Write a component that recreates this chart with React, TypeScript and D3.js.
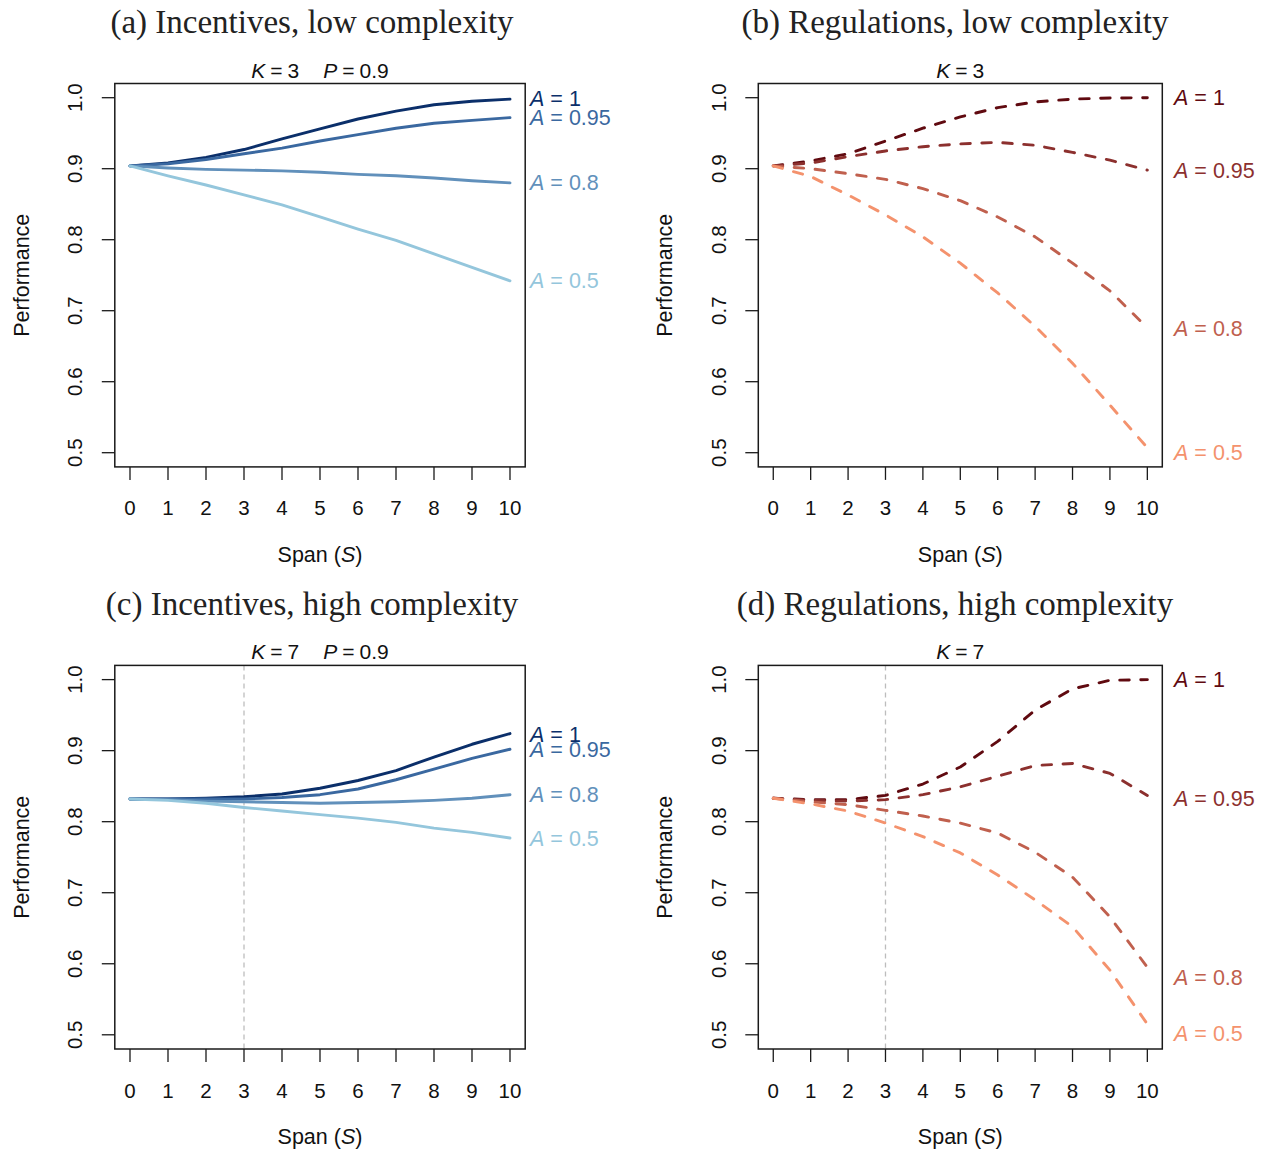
import React from "react";
import * as d3 from "d3";

const spans = [0, 1, 2, 3, 4, 5, 6, 7, 8, 9, 10];
const yTicks = [0.5, 0.6, 0.7, 0.8, 0.9, 1.0];
const aLevels = ["1", "0.95", "0.8", "0.5"];

const incLowA1 = [0.904, 0.908, 0.916, 0.927, 0.942, 0.956, 0.970, 0.981, 0.990, 0.995, 0.998];
const incLowA095 = [0.904, 0.907, 0.913, 0.921, 0.929, 0.939, 0.948, 0.957, 0.964, 0.968, 0.972];
const incLowA08 = [0.904, 0.901, 0.899, 0.898, 0.897, 0.895, 0.892, 0.890, 0.887, 0.883, 0.880];
const incLowA05 = [0.904, 0.890, 0.877, 0.863, 0.849, 0.832, 0.815, 0.799, 0.780, 0.761, 0.742];

const regLowA1 = [0.904, 0.911, 0.921, 0.939, 0.957, 0.973, 0.986, 0.994, 0.998, 0.9995, 1.0];
const regLowA095 = [0.904, 0.908, 0.917, 0.925, 0.931, 0.935, 0.937, 0.933, 0.923, 0.912, 0.898];
const regLowA08 = [0.904, 0.900, 0.893, 0.885, 0.872, 0.855, 0.832, 0.804, 0.767, 0.728, 0.676];
const regLowA05 = [0.904, 0.889, 0.863, 0.835, 0.804, 0.767, 0.725, 0.678, 0.626, 0.567, 0.507];

const incHighA1 = [0.832, 0.832, 0.833, 0.835, 0.839, 0.847, 0.858, 0.872, 0.891, 0.909, 0.924];
const incHighA095 = [0.832, 0.832, 0.832, 0.832, 0.834, 0.838, 0.846, 0.859, 0.874, 0.889, 0.902];
const incHighA08 = [0.832, 0.831, 0.829, 0.828, 0.827, 0.826, 0.827, 0.828, 0.830, 0.833, 0.838];
const incHighA05 = [0.832, 0.830, 0.826, 0.820, 0.815, 0.810, 0.805, 0.799, 0.791, 0.785, 0.777];

const regHighA1 = [0.833, 0.831, 0.831, 0.837, 0.853, 0.877, 0.913, 0.957, 0.987, 0.999, 1.0];
const regHighA095 = [0.833, 0.830, 0.829, 0.831, 0.838, 0.849, 0.864, 0.879, 0.882, 0.868, 0.837];
const regHighA08 = [0.833, 0.828, 0.824, 0.816, 0.808, 0.798, 0.784, 0.757, 0.722, 0.666, 0.595];
const regHighA05 = [0.833, 0.825, 0.815, 0.798, 0.779, 0.756, 0.725, 0.690, 0.652, 0.591, 0.515];

const incLowLabelY = [0.998, 0.972, 0.880, 0.742];
const regLowLabelY = [1.0, 0.897, 0.674, 0.4996];
const incHighLabelY = [0.922, 0.901, 0.838, 0.776];
const regHighLabelY = [0.999, 0.832, 0.58, 0.501];

const blues = ["#0b2f6a", "#3a68a0", "#6190bb", "#94c6dc"];
const reds = ["#600a10", "#8c302e", "#c0604e", "#f4926d"];

const SANS = "'Liberation Sans', Arial, Helvetica, sans-serif";
const SERIF = "'Liberation Serif', 'Times New Roman', serif";

type PanelProps = {
  xr: [number, number];
  yr: [number, number];
  title: string;
  titleX: number;
  titleY: number;
  K: string;
  showP: boolean;
  series: number[][];
  labelY: number[];
  labelX: number;
  colors: string[];
  dashed: boolean;
  vline: boolean;
};

function Panel(p: PanelProps) {
  const x = d3.scaleLinear().domain([-0.4, 10.4]).range(p.xr);
  const y = d3.scaleLinear().domain([0.48, 1.02]).range(p.yr);
  const left = p.xr[0], right = p.xr[1], top = p.yr[1], bottom = p.yr[0];
  const cx = (x(0) + x(10)) / 2;
  const midY = (y(0.5) + y(1.0)) / 2;
  const line = d3
    .line<number>()
    .x((_, i) => x(spans[i]))
    .y((d) => y(d));
  const ink = "#1a1a1a";
  return (
    <g>
      <text x={p.titleX} y={p.titleY} textAnchor="middle" dominantBaseline="central"
        fontFamily={SERIF} fontSize={33} fill="#222">{p.title}</text>
      <text x={cx} y={top - 14} textAnchor="middle" dominantBaseline="central"
        fontFamily={SANS} fontSize={21} fill="#111">
        <tspan fontStyle="italic">K</tspan>
        <tspan dx={5}>=</tspan>
        <tspan dx={5}>{p.K}</tspan>
        {p.showP && <tspan dx={24} fontStyle="italic">P</tspan>}
        {p.showP && <tspan dx={5}>=</tspan>}
        {p.showP && <tspan dx={5}>0.9</tspan>}
      </text>
      {p.vline && (
        <line x1={x(3)} x2={x(3)} y1={top} y2={bottom} stroke="#bdbdbd"
          strokeWidth={1.3} strokeDasharray="5 4" />
      )}
      {p.series.map((s, i) => (
        <path key={i} d={line(s) || ""} fill="none" stroke={p.colors[i]}
          strokeWidth={2.9} strokeLinecap="round" strokeLinejoin="round"
          strokeDasharray={p.dashed ? "9.5 11.5" : undefined} />
      ))}
      <rect x={left} y={top} width={right - left} height={bottom - top}
        fill="none" stroke={ink} strokeWidth={1.5} />
      {yTicks.map((t) => (
        <g key={t}>
          <line x1={left} x2={left - 13} y1={y(t)} y2={y(t)} stroke={ink} strokeWidth={1.3} />
          <text transform={`translate(${left - 40},${y(t)}) rotate(-90)`} textAnchor="middle"
            dominantBaseline="central" fontFamily={SANS} fontSize={20.5} fill="#111">
            {t.toFixed(1)}
          </text>
        </g>
      ))}
      {spans.map((t) => (
        <g key={t}>
          <line x1={x(t)} x2={x(t)} y1={bottom} y2={bottom + 13} stroke={ink} strokeWidth={1.3} />
          <text x={x(t)} y={bottom + 41} textAnchor="middle" dominantBaseline="central"
            fontFamily={SANS} fontSize={20.5} fill="#111">{t}</text>
        </g>
      ))}
      <text x={cx} y={bottom + 88} textAnchor="middle" dominantBaseline="central"
        fontFamily={SANS} fontSize={21.5} fill="#111">
        Span (<tspan fontStyle="italic">S</tspan>)
      </text>
      <text transform={`translate(${left - 93},${midY}) rotate(-90)`} textAnchor="middle"
        dominantBaseline="central" fontFamily={SANS} fontSize={21.5} fill="#111">
        Performance
      </text>
      {aLevels.map((a, i) => (
        <text key={a} x={p.labelX} y={y(p.labelY[i])} dominantBaseline="central"
          fontFamily={SANS} fontSize={21.5} fill={p.colors[i]}>
          <tspan fontStyle="italic">A</tspan>
          <tspan dx={6}>=</tspan>
          <tspan dx={6}>{a}</tspan>
        </text>
      ))}
    </g>
  );
}

export default function App() {
  const leftX: [number, number] = [114.8, 525.2];
  const rightX: [number, number] = [758.3, 1162.3];
  const topY: [number, number] = [466.9, 83.5];
  const botY: [number, number] = [1049, 665.4];
  return (
    <div style={{ position: "absolute", left: 0, top: 0 }}>
      <svg width={1270} height={1155} viewBox="0 0 1270 1155" style={{ display: "block", background: "#fff" }}>
        <rect x={0} y={0} width={1270} height={1155} fill="#fff" />
        <Panel xr={leftX} yr={topY} title="(a) Incentives, low complexity" titleX={312} titleY={22}
          K="3" showP={true} series={[incLowA1, incLowA095, incLowA08, incLowA05]}
          labelY={incLowLabelY} labelX={530} colors={blues} dashed={false} vline={false} />
        <Panel xr={rightX} yr={topY} title="(b) Regulations, low complexity" titleX={955} titleY={22}
          K="3" showP={false} series={[regLowA1, regLowA095, regLowA08, regLowA05]}
          labelY={regLowLabelY} labelX={1174} colors={reds} dashed={true} vline={false} />
        <Panel xr={leftX} yr={botY} title="(c) Incentives, high complexity" titleX={312} titleY={604}
          K="7" showP={true} series={[incHighA1, incHighA095, incHighA08, incHighA05]}
          labelY={incHighLabelY} labelX={530} colors={blues} dashed={false} vline={true} />
        <Panel xr={rightX} yr={botY} title="(d) Regulations, high complexity" titleX={955} titleY={604}
          K="7" showP={false} series={[regHighA1, regHighA095, regHighA08, regHighA05]}
          labelY={regHighLabelY} labelX={1174} colors={reds} dashed={true} vline={true} />
      </svg>
    </div>
  );
}
